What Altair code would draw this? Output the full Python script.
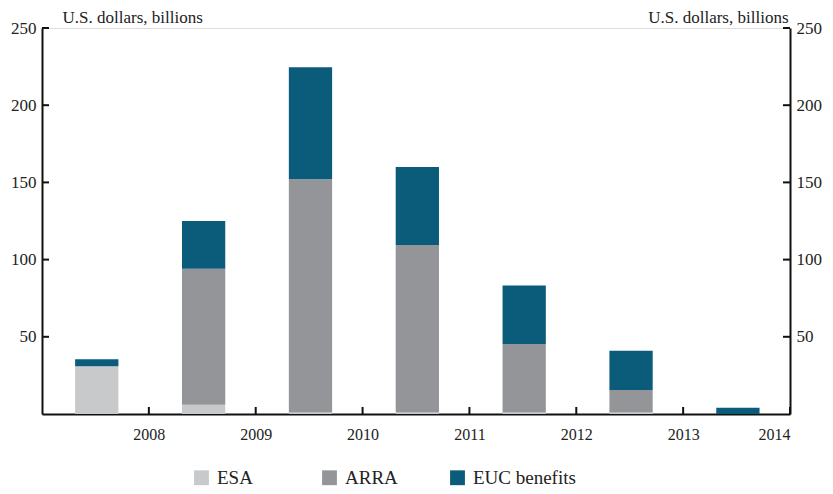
import altair as alt
import pandas as pd

years = [2008, 2009, 2010, 2011, 2012, 2013, 2014]
esa = [31, 6, 1, 1, 1, 1, 0]
arra = [0, 88, 151, 108.5, 44.3, 14.5, 0]
euc = [4.5, 31, 72.5, 50.5, 38, 25.5, 4]
series = ["ESA", "ARRA", "EUC benefits"]
colors = ["#c8c9cb", "#939598", "#0b5b7b"]
y_ticks = [50, 100, 150, 200, 250]
x_ticks = [2008, 2009, 2010, 2011, 2012, 2013, 2014]

rows = []
for i, yr in enumerate(years):
    base = 0.0
    for name, vals in zip(series, [esa, arra, euc]):
        v = vals[i]
        rows.append({"year": yr, "series": name, "order": series.index(name),
                     "y0": base, "y1": base + v})
        base += v
df = pd.DataFrame(rows)
ticks_df = pd.DataFrame({"v": y_ticks})
xt_df = pd.DataFrame({"year": x_ticks})

W, H = 748, 386
FONT = "'DejaVu Serif', serif"
FONT = "Liberation Serif, 'DejaVu Serif', serif"
xscale = alt.Scale(domain=[2007, 2014], nice=False, zero=False)
yscale = alt.Scale(domain=[0, 250], nice=False)

bars = alt.Chart(df).transform_calculate(
    xs="datum.year - 0.69", xe="datum.year - 0.285"
).mark_bar().encode(
    x=alt.X("xs:Q", scale=xscale,
            axis=alt.Axis(values=x_ticks, format="d", ticks=False, grid=False,
                          title=None, labelPadding=12, labelFontSize=16, labelFont=FONT,
                          domainWidth=2, domainColor="#111")),
    x2="xe:Q",
    y=alt.Y("y0:Q", scale=yscale,
            axis=alt.Axis(values=y_ticks, ticks=False, grid=False, labelPadding=6,
                          labelFontSize=17, labelFont=FONT, domainWidth=2, domainColor="#111",
                          title="U.S. dollars, billions", titleAngle=0, titleFont=FONT,
                          titleAlign="left", titleBaseline="alphabetic",
                          titleX=20, titleY=-6, titleFontSize=17,
                          titleFontWeight="normal")),
    y2="y1:Q",
    color=alt.Color("series:N", scale=alt.Scale(domain=series, range=colors),
                    sort=series,
                    legend=alt.Legend(title=None, orient="none", direction="horizontal",
                                      legendX=150, legendY=440, symbolType="square",
                                      symbolSize=220, symbolStrokeWidth=0,
                                      labelFontSize=19, labelFont=FONT, gridAlign="all",
                                      columnPadding=0, labelOffset=6)),
    order="order:Q",
)

left_ticks = alt.Chart(ticks_df).mark_rule(color="#111", strokeWidth=2).encode(
    y=alt.Y("v:Q", scale=yscale, axis=None),
    x=alt.value(0), x2=alt.value(7),
)

right_ticks = alt.Chart(ticks_df).mark_rule(color="#111", strokeWidth=2).encode(
    y=alt.Y("v:Q", scale=yscale,
            axis=alt.Axis(orient="right", values=y_ticks, ticks=False, grid=False,
                          labelPadding=6, labelFontSize=17, labelFont=FONT, domainWidth=2,
                          domainColor="#111", title="U.S. dollars, billions",
                          titleAngle=0, titleAlign="right", titleBaseline="alphabetic",
                          titleX=-2, titleY=-6, titleFontSize=17, titleFont=FONT,
                          titleFontWeight="normal")),
    x=alt.value(W - 7), x2=alt.value(W),
)

x_ticks_layer = alt.Chart(xt_df).mark_rule(color="#111", strokeWidth=2).encode(
    x=alt.X("year:Q", scale=xscale),
    y=alt.value(H - 7), y2=alt.value(H),
)

chart = alt.layer(bars, left_ticks, x_ticks_layer, right_ticks).resolve_scale(
    y="independent"
).properties(
    width=W, height=H,
    autosize=alt.AutoSizeParams(type="none"),
    padding={"left": 34, "top": 20, "right": 35, "bottom": 80},
).configure_view(
    stroke="#111", strokeWidth=2
).configure(
    font=FONT
).configure_axis(
    labelColor="#222", titleColor="#222", labelFont=FONT, titleFont=FONT
).configure_legend(
    labelFont=FONT, labelColor="#222"
)

chart.save("out.html", embed_options={"renderer": "svg", "actions": False})
